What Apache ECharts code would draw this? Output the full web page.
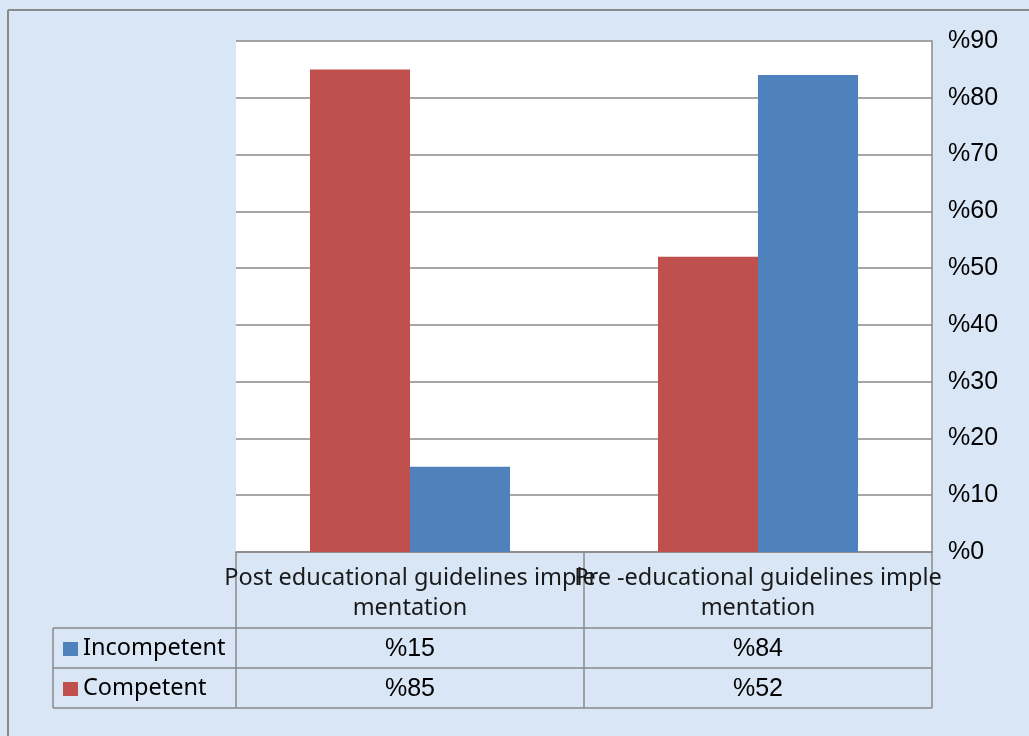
<!DOCTYPE html>
<html><head><meta charset="utf-8">
<script src="https://cdn.jsdelivr.net/npm/echarts@6/dist/echarts.min.js"></script>
<style>html,body{margin:0;padding:0;background:#d9e6f5;} #c{width:1029px;height:736px;}</style>
</head><body><div id="c"></div>
<script>
const categories = ['Post educational guidelines implementation', 'Pre -educational guidelines implementation'];
const competent = [85, 52];
const incompetent = [15, 84];
const yTicks = [0, 10, 20, 30, 40, 50, 60, 70, 80, 90];

const RED = '#c0504d', BLUE = '#4f81bd', GRID = '#888888';
const chart = echarts.init(document.getElementById('c'), null, {renderer: 'canvas'});

const option = {
  backgroundColor: '#d9e6f5',
  animation: false,
  grid: {left: 236, right: 97, top: 41, bottom: 184, show: true, backgroundColor: '#ffffff', borderWidth: 0},
  xAxis: {
    type: 'category', data: categories,
    axisLine: {show: true, lineStyle: {color: GRID, width: 1.5}},
    axisTick: {show: false},
    axisLabel: {
      interval: 0, margin: 11, color: '#1a1a1a', fontFamily: 'Noto Sans', fontSize: 23.5, lineHeight: 30,
      formatter: v => { const i = v.indexOf('imple'); return v.slice(0, i + 5) + '\n' + v.slice(i + 5); }
    }
  },
  yAxis: {
    type: 'value', position: 'right', min: yTicks[0], max: yTicks[yTicks.length - 1], interval: 10,
    axisLine: {show: true, lineStyle: {color: GRID, width: 1.5}},
    axisTick: {show: false},
    splitLine: {show: true, lineStyle: {color: GRID, width: 1.5}},
    axisLabel: {margin: 16, color: '#000', fontFamily: 'Liberation Sans', fontSize: 25, formatter: v => '%' + v}
  },
  series: [
    {name: 'Competent', type: 'bar', data: competent, barWidth: 100, barGap: '0%', itemStyle: {color: RED}},
    {name: 'Incompetent', type: 'bar', data: incompetent, barWidth: 100, barGap: '0%', itemStyle: {color: BLUE}}
  ]
};
chart.setOption(option);

// data table below the plot
const tableRows = [
  {name: 'Incompetent', values: incompetent, color: BLUE},
  {name: 'Competent', values: competent, color: RED}
];
const xL = 53, xA = 236, xR = 932, yTop = 552, yHead = 628, rowH = 40;
const centers = categories.map((c, i) => chart.convertToPixel({xAxisIndex: 0}, i));
const mids = [xA];
for (let i = 0; i < centers.length - 1; i++) mids.push((centers[i] + centers[i + 1]) / 2);
mids.push(xR);
const ls = {stroke: GRID, lineWidth: 1.5};
const g = [];
const yBottom = yHead + rowH * tableRows.length;
mids.forEach(x => g.push({type: 'line', shape: {x1: x, y1: yTop, x2: x, y2: yBottom}, style: ls, silent: true}));
g.push({type: 'line', shape: {x1: xL, y1: yHead, x2: xL, y2: yBottom}, style: ls, silent: true});
for (let r = 0; r <= tableRows.length; r++) {
  const y = yHead + r * rowH;
  g.push({type: 'line', shape: {x1: xL, y1: y, x2: xR, y2: y}, style: ls, silent: true});
}
tableRows.forEach((row, r) => {
  const cy = yHead + r * rowH + rowH / 2;
  g.push({type: 'rect', shape: {x: 63, y: cy - 6, width: 15, height: 14}, style: {fill: row.color}, silent: true});
  g.push({type: 'text', x: 83, y: cy, style: {text: row.name, fill: '#000', font: '23.5px "Noto Sans"', verticalAlign: 'middle'}, silent: true});
  row.values.forEach((v, i) => {
    g.push({type: 'text', x: centers[i], y: cy + 1, style: {text: '%' + v, fill: '#000', font: '25px "Liberation Sans"', align: 'center', verticalAlign: 'middle'}, silent: true});
  });
});
// outer frame
g.push({type: 'line', shape: {x1: 8, y1: 10, x2: 8, y2: 736}, style: {stroke: '#8a8a8a', lineWidth: 2}, silent: true});
g.push({type: 'line', shape: {x1: 8, y1: 10, x2: 1029, y2: 10}, style: {stroke: '#8a8a8a', lineWidth: 2}, silent: true});
chart.setOption({graphic: g});
</script>
</body></html>
